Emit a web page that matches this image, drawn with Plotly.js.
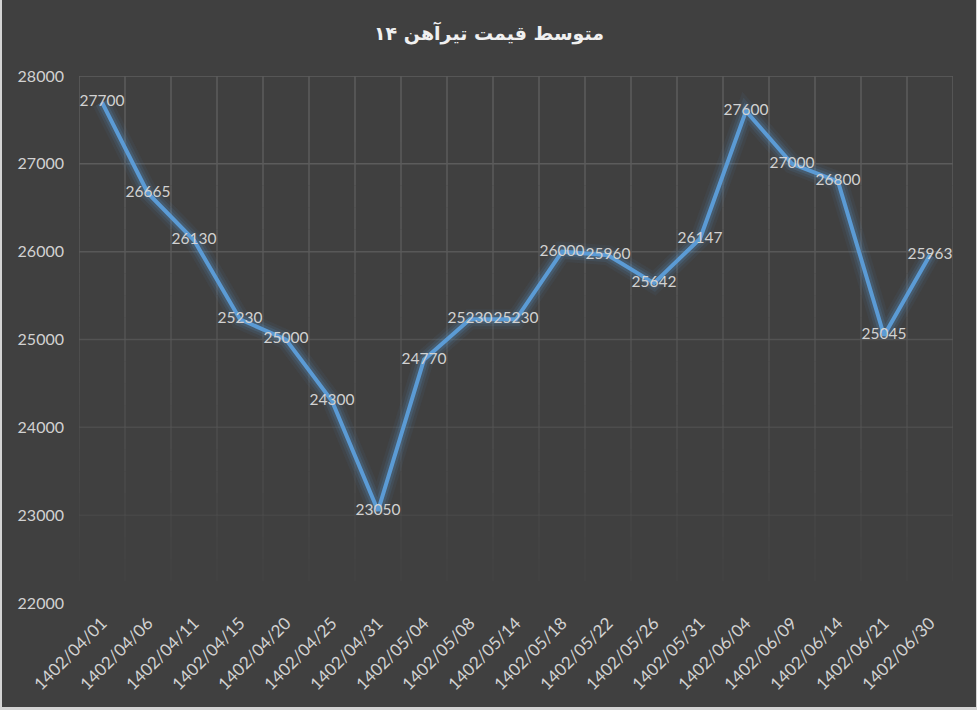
<!DOCTYPE html>
<html>
<head>
<meta charset="utf-8">
<script src="https://cdn.plot.ly/plotly-3.0.1.min.js"></script>
<style>
html,body{margin:0;padding:0;background:#d4d4d4;overflow:hidden;}
#chart{position:absolute;left:2px;top:0;width:974px;height:707px;}
</style>
</head>
<body>
<div id="chart"></div>
<script>
const chartTitle = "متوسط قیمت تیرآهن ۱۴";
const dates = ["1402/04/01","1402/04/06","1402/04/11","1402/04/15","1402/04/20","1402/04/25","1402/04/31","1402/05/04","1402/05/08","1402/05/14","1402/05/18","1402/05/22","1402/05/26","1402/05/31","1402/06/04","1402/06/09","1402/06/14","1402/06/21","1402/06/30"];
const prices = [27700,26665,26130,25230,25000,24300,23050,24770,25230,25230,26000,25960,25642,26147,27600,27000,26800,25045,25963];
const yTicks = [22000,23000,24000,25000,26000,27000,28000];

const yMin = 22000, yMax = 28000;
const lineColor = "#5B9BD5";
const labelFont = {family:"Lato, 'Open Sans', sans-serif", size:15.5, color:"#d2d2d2"};

// glow layers
const glowLayers = [
  {w:20, a:0.06},
  {w:14, a:0.11},
  {w:9,  a:0.18}
];
const traces = glowLayers.map(g => ({
  x: dates, y: prices, type:"scatter", mode:"lines",
  line:{color:lineColor, width:g.w}, opacity:g.a, hoverinfo:"skip", showlegend:false
}));
traces.push({
  x: dates, y: prices, type:"scatter", mode:"lines",
  line:{color:lineColor, width:4}, showlegend:false
});
traces.push({
  x: dates, y: prices, type:"scatter", mode:"text",
  text: prices.map(String), textposition:"middle center",
  textfont: labelFont, showlegend:false, hoverinfo:"skip"
});

// fading gridlines
function fade(v){ // v = fraction from top (0) to bottom (1)
  return Math.max(0, 1 - Math.pow(v, 1.5));
}
const shapes = [];
yTicks.forEach(t => {
  const f = (yMax - t) / (yMax - yMin);
  const o = fade(f);
  if (o > 0.01) shapes.push({type:"line", xref:"paper", yref:"y", x0:0, x1:1, y0:t, y1:t,
    line:{color:"rgb(94,94,94)", width:1.5}, opacity:o, layer:"below"});
});
const nSeg = 24;
for (let i = 0; i <= dates.length; i++) {
  for (let s = 0; s < nSeg; s++) {
    const f0 = s / nSeg, f1 = (s + 1) / nSeg;
    const o = fade((f0 + f1) / 2);
    if (o < 0.01) continue;
    shapes.push({type:"line", xref:"x", yref:"y", x0:i-0.5, x1:i-0.5,
      y0: yMax - f0*(yMax-yMin), y1: yMax - f1*(yMax-yMin),
      line:{color:"rgb(94,94,94)", width:1.5}, opacity:o, layer:"below"});
  }
}

const layout = {
  width:974, height:707,
  paper_bgcolor:"#404040", plot_bgcolor:"#404040",
  margin:{l:77, r:23, t:76, b:104},
  title:{text:chartTitle, x:0.5, xref:"container", xanchor:"center", y:0.953, yref:"container", yanchor:"middle",
    font:{family:"'DejaVu Sans', sans-serif", size:19, color:"#f0f0f0", weight:"bold"}},
  xaxis:{type:"category", range:[-0.5, dates.length-0.5], showgrid:false, zeroline:false,
    showline:false, ticks:"", tickangle:-45, ticklabelstandoff:6,
    tickfont:{family:"Lato, 'Open Sans', sans-serif", size:17, color:"#d2d2d2"}},
  yaxis:{range:[yMin, yMax], tickvals:yTicks, ticktext:yTicks.map(String), showgrid:false,
    zeroline:false, showline:false, ticks:"", ticklabelstandoff:14,
    tickfont:{family:"Lato, 'Open Sans', sans-serif", size:16, color:"#d2d2d2"}},
  shapes: shapes,
  showlegend:false
};

Plotly.newPlot("chart", traces, layout, {displayModeBar:false, staticPlot:true});
</script>
</body>
</html>
